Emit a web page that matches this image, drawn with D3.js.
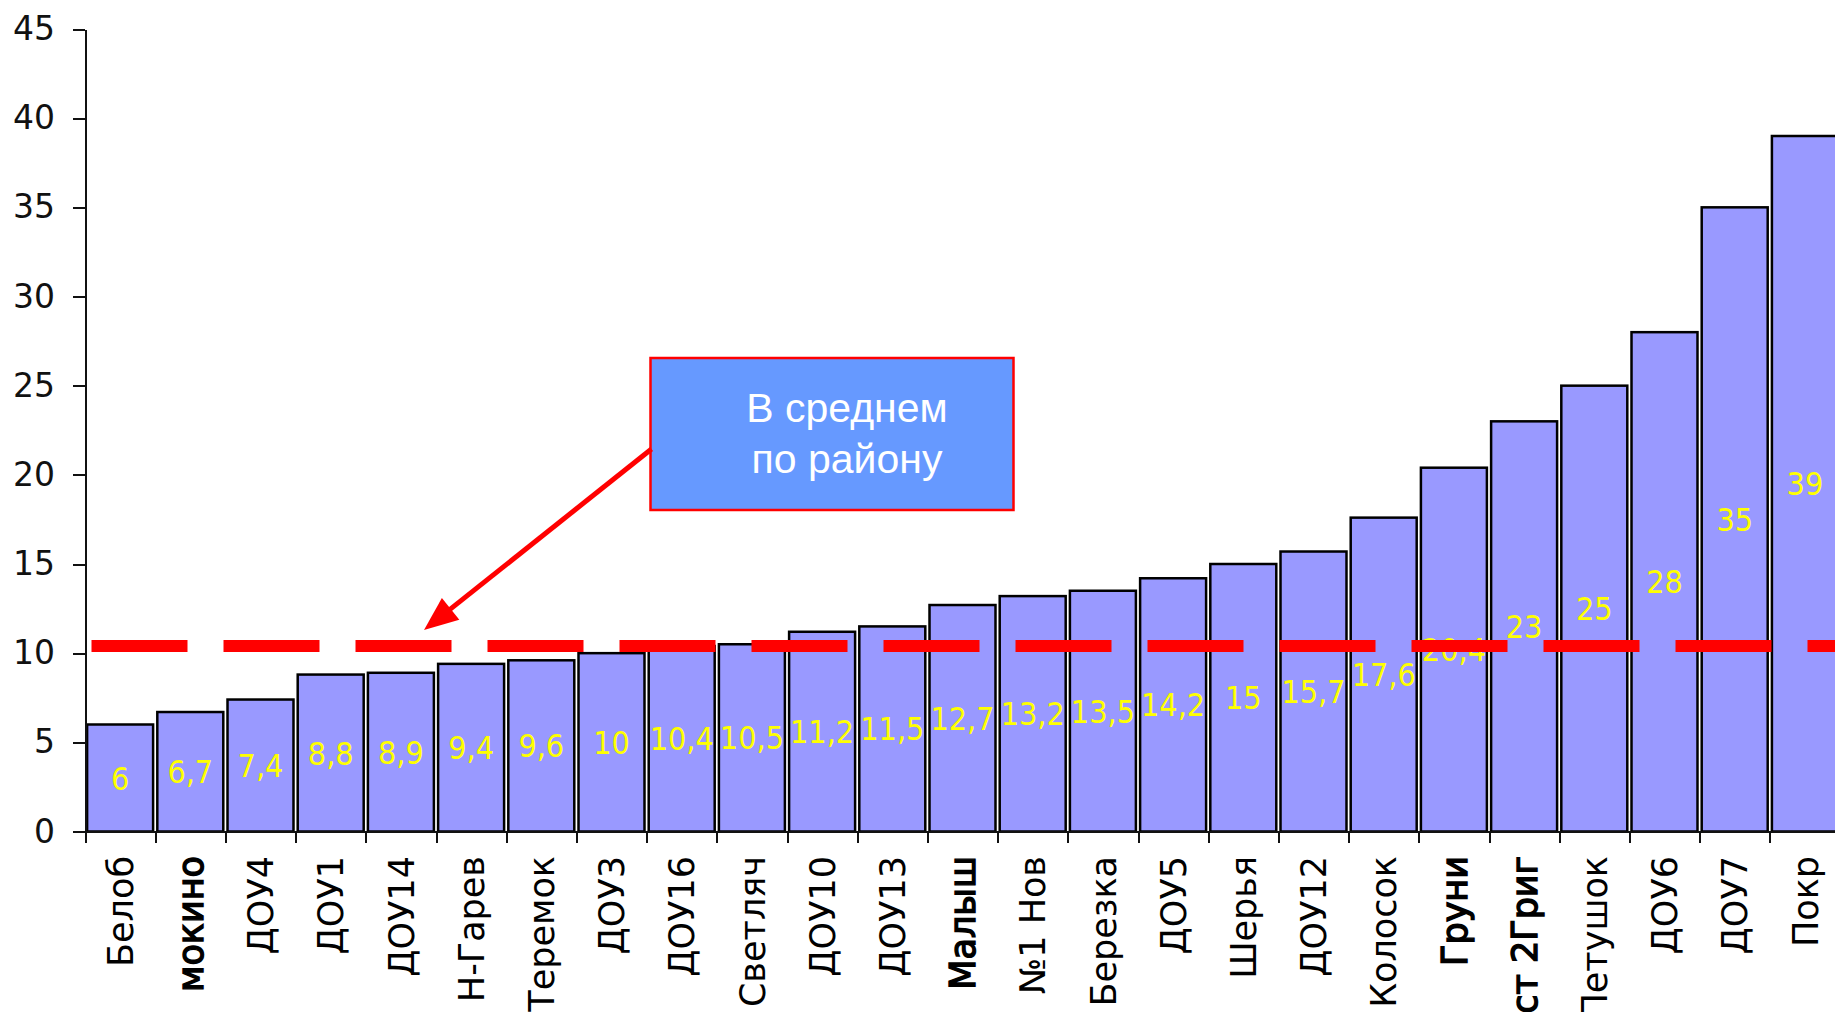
<!DOCTYPE html>
<html lang="ru">
<head>
<meta charset="UTF-8">
<title>В среднем по району</title>
<script src="https://d3js.org/d3.v7.min.js"></script>
<style>
  body { margin: 0; background: #fff; }
  svg { display: block; }
  .yaxis path, .yaxis line, .xaxis path, .xaxis line {
    stroke: #111;
    stroke-width: 2px;
    shape-rendering: crispEdges;
  }
  .yaxis text {
    font-family: "DejaVu Sans", sans-serif;
    font-size: 33px;
    fill: #111;
  }
  .cat {
    font-family: "DejaVu Sans", sans-serif;
    font-size: 35px;
    fill: #000;
  }
  .val {
    font-family: "DejaVu Sans Condensed", "DejaVu Sans", sans-serif;
    font-size: 32px;
    fill: #ffff00;
  }
  .note {
    font-family: "Liberation Sans", Arial, sans-serif;
    font-size: 41px;
    fill: #fff;
  }
</style>
</head>
<body>
<svg id="chart" width="1835" height="1012"></svg>
<script>
  // data
  var categories = ["Белоб", "мокино", "ДОУ4", "ДОУ1", "ДОУ14", "Н-Гарев", "Теремок", "ДОУ3",
    "ДОУ16", "Светляч", "ДОУ10", "ДОУ13", "Малыш", "№1 Нов", "Березка", "ДОУ5", "Шерья",
    "ДОУ12", "Колосок", "Груни", "ст 2Григ", "Петушок", "ДОУ6", "ДОУ7", "Покр"];
  var values = [6, 6.7, 7.4, 8.8, 8.9, 9.4, 9.6, 10, 10.4, 10.5, 11.2, 11.5, 12.7, 13.2,
    13.5, 14.2, 15, 15.7, 17.6, 20.4, 23, 25, 28, 35, 39];
  var yTicks = [0, 5, 10, 15, 20, 25, 30, 35, 40, 45];
  var average = 10.4;
  var noteLines = ["В среднем", "по району"];

  var data = categories.map(function(c, i) { return {cat: c, v: values[i]}; });

  var left = 85, step = 70.2;
  var svg = d3.select("#chart");

  var x = d3.scaleBand()
    .domain(categories)
    .range([left, left + step * categories.length])
    .paddingInner(0.06)
    .paddingOuter(0.03);

  var y = d3.scaleLinear()
    .domain([0, 45])
    .range([831.5, 29]);

  //-------------- bars --------------
  svg.selectAll("rect.bar")
    .data(data)
    .enter().append("rect")
    .attr("class", "bar")
    .attr("x", function(d) { return x(d.cat); })
    .attr("y", function(d) { return y(d.v); })
    .attr("width", x.bandwidth())
    .attr("height", function(d) { return y(0) - y(d.v); })
    .style("fill", "#9999ff")
    .style("stroke", "#000")
    .style("stroke-width", "2.5px");

  //-------------- axes --------------
  var yAxis = d3.axisLeft(y).tickValues(yTicks).tickSize(12).tickPadding(18).tickSizeOuter(0);
  svg.append("g")
    .attr("class", "yaxis")
    .attr("transform", "translate(" + left + ",0)")
    .call(yAxis);

  // ticks between categories
  var bounds = d3.scaleLinear().domain([0, categories.length]).range(x.range());
  var xAxis = d3.axisBottom(bounds)
    .tickValues(d3.range(categories.length + 1))
    .tickSize(11)
    .tickSizeOuter(0)
    .tickFormat("");
  svg.append("g")
    .attr("class", "xaxis")
    .attr("transform", "translate(0," + y(0) + ")")
    .call(xAxis);

  // a few labels render heavier in the picture
  var heavy = ["мокино", "Малыш", "Груни", "ст 2Григ"];

  svg.selectAll("text.cat")
    .data(data)
    .enter().append("text")
    .attr("class", "cat")
    .attr("transform", function(d) {
      return "translate(" + (x(d.cat) + x.bandwidth() / 2) + ",856) rotate(-90)";
    })
    .attr("text-anchor", "end")
    .attr("dy", "0.36em")
    .style("stroke", "#000")
    .style("stroke-width", function(d) { return heavy.indexOf(d.cat) >= 0 ? "1.4px" : "0px"; })
    .text(function(d) { return d.cat; });

  //-------------- value labels --------------
  svg.selectAll("text.val")
    .data(data)
    .enter().append("text")
    .attr("class", "val")
    .attr("x", function(d) { return x(d.cat) + x.bandwidth() / 2; })
    .attr("y", function(d) { return (y(d.v) + y(0)) / 2; })
    .attr("text-anchor", "middle")
    .attr("dy", "0.36em")
    .text(function(d) { return String(d.v).replace(".", ","); });

  //-------------- average line --------------
  svg.append("line")
    .attr("x1", 91.5)
    .attr("x2", 1900)
    .attr("y1", y(average))
    .attr("y2", y(average))
    .style("stroke", "#ff0000")
    .style("stroke-width", "12px")
    .style("stroke-dasharray", "96 36");

  //-------------- note box + arrow --------------
  svg.append("rect")
    .attr("x", 650.5)
    .attr("y", 358)
    .attr("width", 363)
    .attr("height", 152)
    .style("fill", "#6699ff")
    .style("stroke", "#ff0000")
    .style("stroke-width", "2.5px");

  svg.selectAll("text.note")
    .data(noteLines)
    .enter().append("text")
    .attr("class", "note")
    .attr("x", 847)
    .attr("y", function(d, i) { return 422 + i * 51; })
    .attr("text-anchor", "middle")
    .text(function(d) { return d; });

  var start = [651.5, 449], tip = [424, y(average) - 16];
  var dx = tip[0] - start[0], dy = tip[1] - start[1];
  var len = Math.sqrt(dx * dx + dy * dy);
  var ux = dx / len, uy = dy / len;
  var head = 34, half = 14;
  var base = [tip[0] - ux * head, tip[1] - uy * head];

  svg.append("line")
    .attr("x1", start[0]).attr("y1", start[1])
    .attr("x2", base[0] + ux * 4).attr("y2", base[1] + uy * 4)
    .style("stroke", "#ff0000")
    .style("stroke-width", "5px");

  svg.append("polygon")
    .attr("points", [
      tip,
      [base[0] - uy * half, base[1] + ux * half],
      [base[0] + uy * half, base[1] - ux * half]
    ].map(function(p) { return p.join(","); }).join(" "))
    .style("fill", "#ff0000");
</script>
</body>
</html>
